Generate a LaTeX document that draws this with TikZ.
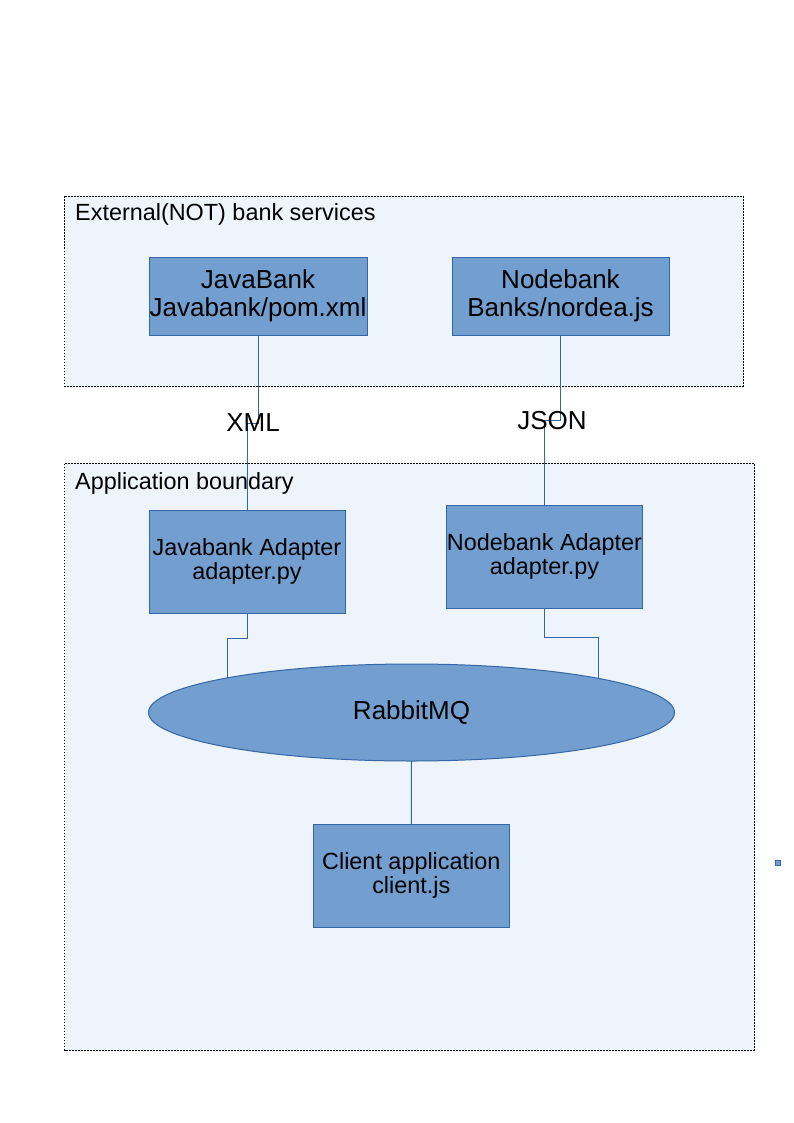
\documentclass[tikz,border=0pt]{standalone}
\usepackage{fontspec}
\setmainfont{Liberation Sans}
\usetikzlibrary{shapes.geometric}
\definecolor{boxfill}{HTML}{729FCF}
\definecolor{boxline}{HTML}{3465A4}
\definecolor{areafill}{HTML}{EEF4FB}
\pgfdeclarelayer{back}
\pgfdeclarelayer{mid}
\pgfsetlayers{back,mid,main}
\tikzset{
  area/.style={draw=black, fill=areafill, line width=0.9pt, dash pattern=on 1.6pt off 1.4pt},
  areatitle/.style={anchor=base west, inner sep=0pt, font=\fontsize{23.4}{25}\selectfont},
  bigbox/.style={draw=boxline, fill=boxfill, line width=1pt, outer sep=0pt, inner sep=0pt,
    align=center, font=\fontsize{26}{28}\selectfont},
  smallbox/.style={draw=boxline, fill=boxfill, line width=1pt, outer sep=0pt, inner sep=0pt,
    align=center, font=\fontsize{23.4}{24.5}\selectfont},
  conn/.style={draw=boxline, line width=1pt},
  lbl/.style={anchor=base, inner sep=0pt, font=\fontsize{26}{28}\selectfont},
}
\begin{document}
\begin{tikzpicture}[x=1pt,y=-1pt]
\useasboundingbox (0,0) rectangle (794,1123);
% containers
\begin{pgfonlayer}{back}
\path[area] (64.5,196.5) rectangle (743,386);
\path[area] (64.5,463.5) rectangle (754,1050);
\end{pgfonlayer}
\node[areatitle] (exttitle) at (75,221) {External(NOT) bank services};
\node[areatitle] (apptitle) at (75,489) {Application boundary};
% nodes
\node[bigbox, minimum width=218pt, minimum height=78pt] (jb) at (258,296) {JavaBank\\Javabank/pom.xml};
\node[bigbox, minimum width=217pt, minimum height=78pt] (nb) at (560.5,296) {Nodebank\\Banks/nordea.js};
\node[smallbox, minimum width=196pt, minimum height=103pt] (jba) at (247,561.5) {Javabank Adapter\\adapter.py};
\node[smallbox, minimum width=196pt, minimum height=103pt] (nba) at (544.5,556.5) {Nodebank Adapter\\adapter.py};
\node[ellipse, draw=boxline, fill=boxfill, line width=1pt, outer sep=0pt, inner sep=0pt,
  minimum width=526pt, minimum height=97pt, font=\fontsize{26}{28}\selectfont] (mq) at (411.5,712.5) {RabbitMQ};
\node[smallbox, minimum width=196pt, minimum height=103pt] (cl) at (411.3,875.5) {Client application\\client.js};
\node[draw=boxline, fill=boxfill, line width=0.8pt, minimum size=5pt, inner sep=0pt] (dot) at (777.8,862.8) {};
% labels
\node[lbl] (xml) at (253,431.5) {XML};
\node[lbl] (json) at (552,429) {JSON};
% connectors
\coordinate (xj) at (247,423);
\coordinate (jj) at (544.5,420);
\coordinate (ja) at (227,638);
\coordinate (na) at (598,637);
\begin{pgfonlayer}{mid}
\draw[conn] (jb.south) |- (xj) -- (jba.north);
\draw[conn] (nb.south) |- (jj) -- (nba.north);
\draw[conn] (jba.south) |- (ja) -- (ja |- mq.center);
\draw[conn] (nba.south) |- (na) -- (na |- mq.center);
\draw[conn] (mq.south) -- (cl.north);
\end{pgfonlayer}
\end{tikzpicture}
\end{document}
